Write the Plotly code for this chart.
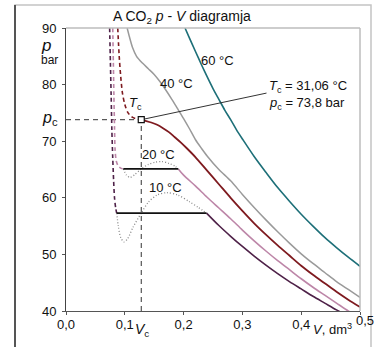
import plotly.graph_objects as go

# ---------------- data ----------------
V_C = 0.128          # critical volume, dm3
P_C = 73.8           # critical pressure, bar

V_60 = [0.2024, 0.21, 0.22, 0.23, 0.24, 0.25, 0.26, 0.27, 0.28, 0.29, 0.30, 0.32, 0.34, 0.36, 0.38, 0.40, 0.42, 0.44, 0.46, 0.48, 0.50]
P_60 = [90.0, 88.2, 85.9, 83.6, 81.4, 79.3, 77.4, 75.5, 73.8, 72.0, 70.4, 67.3, 64.5, 61.8, 59.4, 57.1, 55.0, 53.0, 51.2, 49.5, 47.9]

V_40 = [0.104, 0.108, 0.113, 0.12, 0.13, 0.14, 0.15, 0.16, 0.17, 0.18, 0.19, 0.20, 0.21, 0.22, 0.23, 0.24, 0.26, 0.28, 0.30, 0.32, 0.34, 0.36, 0.38, 0.40, 0.42, 0.44, 0.46, 0.48, 0.50]
P_40 = [90.0, 88.4, 86.6, 85.0, 83.8, 82.8, 81.8, 80.5, 79.0, 77.4, 75.7, 74.0, 72.2, 70.3, 68.8, 67.4, 65.0, 63.0, 60.6, 58.3, 56.1, 54.0, 52.0, 50.1, 48.4, 46.8, 45.2, 43.8, 42.4]

V_TC_LIQ = [0.088, 0.0905, 0.093, 0.096, 0.100, 0.105, 0.112, 0.120, 0.128]
P_TC_LIQ = [90.0, 85.0, 81.5, 78.5, 76.5, 75.1, 74.3, 73.95, 73.8]
V_TC_GAS = [0.128, 0.135, 0.145, 0.155, 0.165, 0.175, 0.185, 0.195, 0.205, 0.22, 0.24, 0.26, 0.28, 0.30, 0.32, 0.34, 0.36, 0.38, 0.40, 0.42, 0.44, 0.46, 0.48, 0.50]
P_TC_GAS = [73.8, 73.6, 73.3, 72.9, 72.3, 71.6, 70.7, 69.8, 68.8, 67.2, 64.8, 62.4, 60.0, 57.7, 55.5, 53.5, 51.6, 49.8, 48.0, 46.4, 44.9, 43.4, 42.0, 40.7]

V_20_LIQ = [0.0795, 0.0805, 0.0815, 0.0825, 0.0835, 0.0855, 0.089, 0.094, 0.0975]
P_20_LIQ = [90.0, 84.0, 78.0, 72.5, 68.5, 66.5, 65.6, 65.2, 65.1]
V_20_LOOP = [0.0975, 0.103, 0.109, 0.117, 0.128, 0.14, 0.152, 0.163, 0.175, 0.185, 0.191]
P_20_LOOP = [65.1, 64.0, 63.6, 64.1, 65.1, 65.9, 66.3, 66.4, 66.1, 65.6, 65.1]
V_20_TIE = [0.0975, 0.191]
P_20_SAT = 65.1
V_20_GAS = [0.191, 0.20, 0.22, 0.24, 0.26, 0.28, 0.30, 0.32, 0.34, 0.36, 0.38, 0.40, 0.42, 0.44, 0.46, 0.48, 0.50]
P_20_GAS = [65.1, 64.0, 62.1, 60.1, 58.2, 56.3, 54.3, 52.4, 50.6, 48.9, 47.3, 45.7, 44.2, 42.8, 41.4, 40.0, 38.8]

V_10_LIQ = [0.0742, 0.0755, 0.0768, 0.078, 0.0795, 0.081, 0.0825, 0.0845, 0.0862]
P_10_LIQ = [90.0, 84.0, 78.0, 72.0, 67.0, 63.0, 60.0, 58.2, 57.3]
V_10_LOOP = [0.0862, 0.089, 0.093, 0.0986, 0.105, 0.114, 0.128, 0.14, 0.155, 0.171, 0.19, 0.21, 0.225, 0.239]
P_10_LOOP = [57.3, 55.0, 53.0, 52.2, 52.8, 54.8, 57.3, 59.2, 60.5, 60.9, 60.5, 59.3, 58.3, 57.3]
V_10_TIE = [0.0862, 0.239]
P_10_SAT = 57.3
V_10_GAS = [0.239, 0.26, 0.28, 0.30, 0.32, 0.34, 0.36, 0.38, 0.40, 0.42, 0.44, 0.46, 0.48]
P_10_GAS = [57.3, 55.1, 53.2, 51.4, 49.7, 48.1, 46.6, 45.2, 43.9, 42.6, 41.4, 40.2, 39.1]

LEADER_V = [0.128, 0.341]
LEADER_P = [73.8, 78.5]

X_TICKS = [0.0, 0.1, 0.2, 0.3, 0.4, 0.5]
X_TICK_LABELS = ["0,0", "0,1", "0,2", "0,3", "0,4", ""]
X_LAST_LABEL = "0,5"
Y_TICKS = [40, 50, 60, 70, 80, 90]
Y_TICK_LABELS = ["40", "50", "60", "70", "80", "90"]

# ---------------- styling ----------------
FONT = "Liberation Sans, Arial, sans-serif"
C60 = "#1d6f78"
C40 = "#9a9a9a"
CTC = "#7e1a1f"
C20 = "#bd86a8"
C10 = "#4e2148"
CDOT = "#8a8a8a"

W, H = 375, 347
L, R, T, B = 66, 15, 28, 36
PW, PH = W - L - R, H - T - B


def px(x):
    return (x - L) / PW


def py(y):
    return (H - B - y) / PH


fig = go.Figure()


def add(v, p, color, width=1.5, dash="solid", shape="spline"):
    fig.add_trace(go.Scatter(x=v, y=p, mode="lines", hoverinfo="skip",
                             line=dict(color=color, width=width, dash=dash,
                                       shape=shape, smoothing=0.8)))


# guides through critical point
add([0, V_C], [P_C, P_C], "#333333", 1, "5px,4px", "linear")
add([V_C, V_C], [40, P_C], "#333333", 1, "5px,4px", "linear")

# loops (dotted)
add(V_20_LOOP, P_20_LOOP, CDOT, 1.3, "1px,2px")
add(V_10_LOOP, P_10_LOOP, CDOT, 1.3, "1px,2px")

# isotherms
add(V_60, P_60, C60, 1.6)
add(V_40, P_40, C40, 1.5)
add(V_TC_LIQ, P_TC_LIQ, CTC, 1.6, "4px,3px")
add(V_TC_GAS, P_TC_GAS, CTC, 1.8)
add(V_20_LIQ, P_20_LIQ, C20, 1.6, "4px,3px")
add(V_20_GAS, P_20_GAS, C20, 1.6)
add(V_10_LIQ, P_10_LIQ, C10, 1.6, "4px,3px")
add(V_10_GAS, P_10_GAS, C10, 1.6)

# tie lines
add(V_20_TIE, [P_20_SAT, P_20_SAT], "#111111", 1.8, "solid", "linear")
add(V_10_TIE, [P_10_SAT, P_10_SAT], "#111111", 1.8, "solid", "linear")

# leader line and critical point
add(LEADER_V, LEADER_P, "#333333", 1, "solid", "linear")
fig.add_trace(go.Scatter(x=[V_C], y=[P_C], mode="markers", hoverinfo="skip",
                         marker=dict(symbol="square", size=6, color="white",
                                     line=dict(color="#111111", width=1.2))))

# frames
shapes = [
    dict(type="rect", xref="paper", yref="paper", x0=px(15), x1=px(371), y0=py(349), y1=py(5),
         line=dict(color="#c4c4c4", width=1.5), layer="below"),
    dict(type="line", xref="paper", yref="paper", x0=px(15), x1=px(15), y0=py(5), y1=py(349),
         line=dict(color="#555555", width=2)),
    dict(type="line", xref="paper", yref="paper", x0=0, x1=1, y0=1, y1=1,
         line=dict(color="#bdbdbd", width=1.5)),
    dict(type="line", xref="paper", yref="paper", x0=1, x1=1, y0=0, y1=1,
         line=dict(color="#bdbdbd", width=1.5)),
]


def ann(text, x, y, size=13, xanchor="center", yanchor="middle", ref="paper"):
    return dict(text=text, x=x, y=y, xref=ref, yref=ref, showarrow=False,
                xanchor=xanchor, yanchor=yanchor,
                font=dict(family=FONT, size=size, color="#111111"))


annotations = [
    ann("A CO<sub>2</sub> <i>p</i> - <i>V</i> diagramja", px(182), py(17), 14),
    ann("<i>p</i>", px(46), py(45), 17),
    ann("bar", px(49), py(60), 12),
    ann("<i>p</i><sub>c</sub>", px(50), py(119), 16),
    ann("<i>V</i><sub>c</sub>", px(142), py(330), 14),
    ann("<i>V</i>, dm<sup>3</sup>", px(332), py(329), 13),
    ann(X_LAST_LABEL, px(365), py(320), 13),
    ann("60 °C", px(217), py(60), 13),
    ann("40 °C", px(176), py(83), 13),
    ann("20 °C", px(158), py(154), 13),
    ann("10 °C", px(165), py(187), 13),
    ann("<i>T</i><sub>c</sub>", px(135), py(103), 13),
    ann("<i>T</i><sub>c</sub> = 31,06 °C", px(267), py(86), 13, xanchor="left"),
    ann("<i>p</i><sub>c</sub> = 73,8 bar", px(267), py(103), 13, xanchor="left"),
]

fig.update_layout(
    width=W, height=H,
    margin=dict(l=L, r=R, t=T, b=B, pad=0),
    paper_bgcolor="white", plot_bgcolor="white",
    showlegend=False,
    font=dict(family=FONT, size=13, color="#111111"),
    shapes=shapes, annotations=annotations,
    xaxis=dict(range=[0, 0.5], tickvals=X_TICKS, ticktext=X_TICK_LABELS,
               showgrid=False, zeroline=False, showline=True, linecolor="#555555", linewidth=1,
               ticks="outside", ticklen=3, tickcolor="#555555", ticklabelstandoff=-2,
               tickfont=dict(family=FONT, size=13, color="#111111")),
    yaxis=dict(range=[40, 90], tickvals=Y_TICKS, ticktext=Y_TICK_LABELS,
               showgrid=False, zeroline=False, showline=True, linecolor="#444444", linewidth=1,
               ticks="outside", ticklen=3, tickcolor="#555555", ticklabelstandoff=3,
               tickfont=dict(family=FONT, size=13, color="#111111")),
)

fig.write_html("out.html", config={"displayModeBar": False},
               post_script="document.body.style.margin='0';document.body.style.padding='0';")
